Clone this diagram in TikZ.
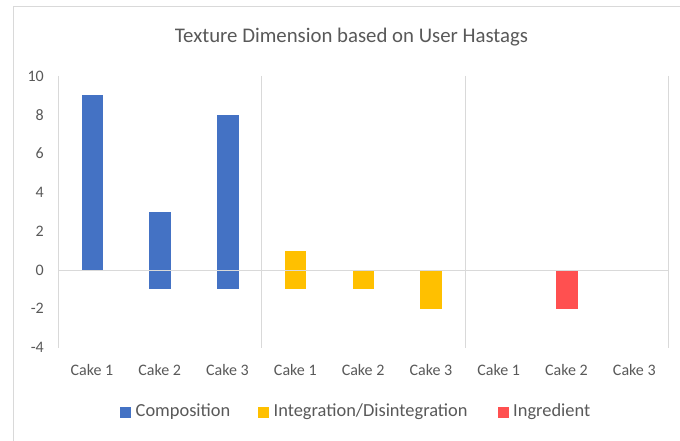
\documentclass[tikz,border=0pt]{standalone}
\usepackage{fontspec}
\setmainfont{Carlito}
\usepackage{tikz}

\definecolor{compblue}{HTML}{4472C4}
\definecolor{integyellow}{HTML}{FFC000}
\definecolor{ingredred}{HTML}{FF5050}
\definecolor{gridgray}{HTML}{D9D9D9}
\definecolor{labelgray}{HTML}{595959}

\begin{document}
\begin{tikzpicture}[x=1pt,y=-1pt,
    ticklabel/.style={anchor=east,inner sep=0pt,text=labelgray,font=\fontsize{16}{19}\selectfont},
    catlabel/.style={inner sep=0pt,text=labelgray,font=\fontsize{16}{19}\selectfont},
    legendlabel/.style={anchor=west,inner sep=0pt,text=labelgray,font=\fontsize{18.4}{21}\selectfont},
    gridline/.style={draw=gridgray,line width=1pt}]
      \useasboundingbox (0,0) rectangle (680,441);
      \fill[white] (0,0) rectangle (680,441);
      \draw[gridgray,line width=1.5pt] (13.5,441) -- (13.5,6.5) -- (680,6.5);

      \node[inner sep=0pt,text=labelgray,font=\fontsize{20.8}{24}\selectfont] (title) at (351.5,37) {Texture Dimension based on User Hastags};

      % bars
      \fill[compblue] (81.5,95.4) rectangle (103,270);
      \fill[compblue] (149,211.8) rectangle (170.5,289.4);
      \fill[compblue] (217,114.8) rectangle (238.5,289.4);
      \fill[integyellow] (284.5,250.6) rectangle (306,289.4);
      \fill[integyellow] (352.5,270) rectangle (374,289.4);
      \fill[integyellow] (420,270) rectangle (441.5,308.8);
      \fill[ingredred] (556,270) rectangle (577.5,308.8);

      % axis and separators
      \draw[gridline] (58,76) -- (58,348);
      \draw[gridline] (261.5,76) -- (261.5,348);
      \draw[gridline] (465,76) -- (465,348);
      \draw[gridline] (668,76) -- (668,348);
      \draw[gridline] (58,270) -- (668,270);

      \node[ticklabel] (y10) at (44,76) {10};
      \node[ticklabel] (y8) at (44,114.8) {8};
      \node[ticklabel] (y6) at (44,153.6) {6};
      \node[ticklabel] (y4) at (44,192.4) {4};
      \node[ticklabel] (y2) at (44,231.2) {2};
      \node[ticklabel] (y0) at (44,270) {0};
      \node[ticklabel] (ym2) at (44,308.8) {-2};
      \node[ticklabel] (ym4) at (44,347.6) {-4};

      \node[catlabel] (compa) at (91.9,370) {Cake 1};
      \node[catlabel] (compb) at (159.7,370) {Cake 2};
      \node[catlabel] (compc) at (227.5,370) {Cake 3};
      \node[catlabel] (intega) at (295.3,370) {Cake 1};
      \node[catlabel] (integb) at (363.1,370) {Cake 2};
      \node[catlabel] (integc) at (430.9,370) {Cake 3};
      \node[catlabel] (ingreda) at (498.7,370) {Cake 1};
      \node[catlabel] (ingredb) at (566.5,370) {Cake 2};
      \node[catlabel] (ingredc) at (634.3,370) {Cake 3};

      % legend
      \fill[compblue] (120,406.5) rectangle (131,417.5);
      \node[legendlabel] (legcomp) at (135.5,412) {Composition};
      \fill[integyellow] (258,406.5) rectangle (269,417.5);
      \node[legendlabel] (leginteg) at (273.5,412) {Integration/Disintegration};
      \fill[ingredred] (497.5,406.5) rectangle (508.5,417.5);
      \node[legendlabel] (legingred) at (513,412) {Ingredient};
    \end{tikzpicture}
\end{document}
